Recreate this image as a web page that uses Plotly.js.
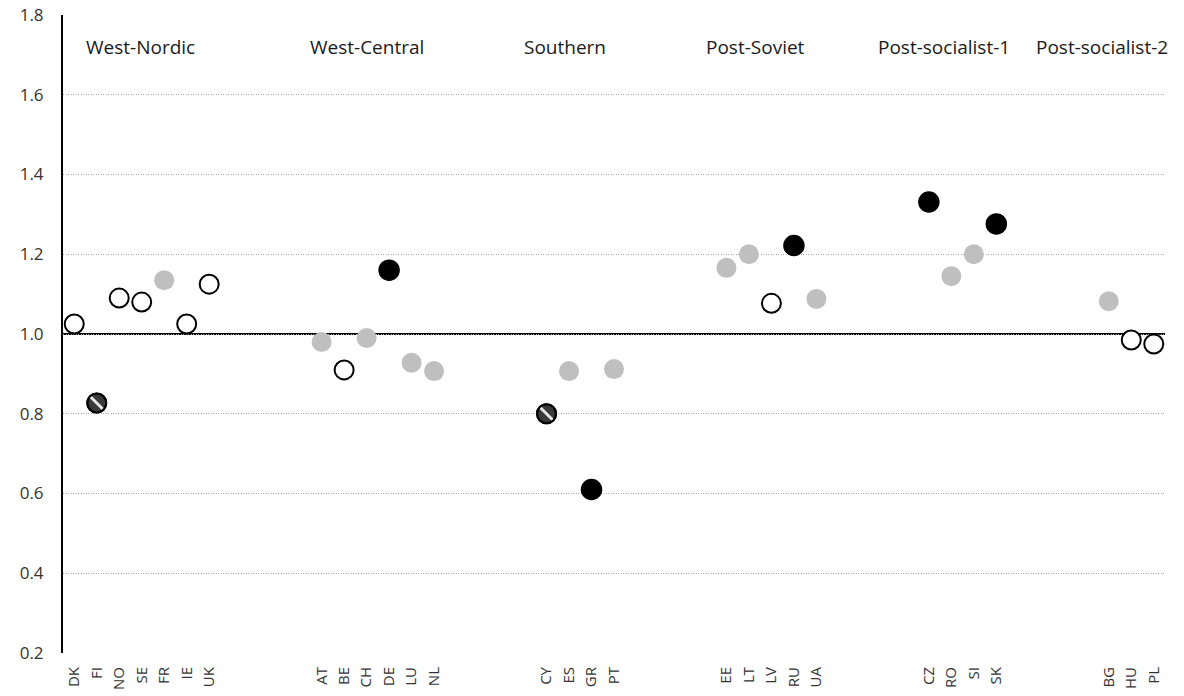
<!DOCTYPE html>
<html>
<head>
<meta charset="utf-8">
<script src="https://cdn.plot.ly/plotly-3.0.1.min.js"></script>
<style>html,body{margin:0;padding:0;background:#fff;}#chart{width:1184px;height:696px;}</style>
</head>
<body>
<div id="chart"></div>
<script>
// Groups
const groupNames = ['West-Nordic', 'West-Central', 'Southern', 'Post-Soviet', 'Post-socialist-1', 'Post-socialist-2'];
const westNordicCodes = ['DK', 'FI', 'NO', 'SE', 'FR', 'IE', 'UK'];
const westNordicVals  = [1.025, 0.827, 1.090, 1.080, 1.135, 1.025, 1.125];
const westNordicType  = ['open', 'hatch', 'open', 'open', 'gray', 'open', 'open'];
const westCentralCodes = ['AT', 'BE', 'CH', 'DE', 'LU', 'NL'];
const westCentralVals  = [0.980, 0.910, 0.990, 1.160, 0.928, 0.907];
const westCentralType  = ['gray', 'open', 'gray', 'black', 'gray', 'gray'];
const southernCodes = ['CY', 'ES', 'GR', 'PT'];
const southernVals  = [0.800, 0.907, 0.610, 0.912];
const southernType  = ['hatch', 'gray', 'black', 'gray'];
const postSovietCodes = ['EE', 'LT', 'LV', 'RU', 'UA'];
const postSovietVals  = [1.166, 1.200, 1.077, 1.222, 1.088];
const postSovietType  = ['gray', 'gray', 'open', 'black', 'gray'];
const postSoc1Codes = ['CZ', 'RO', 'SI', 'SK'];
const postSoc1Vals  = [1.331, 1.145, 1.200, 1.276];
const postSoc1Type  = ['black', 'gray', 'gray', 'black'];
const postSoc2Codes = ['BG', 'HU', 'PL'];
const postSoc2Vals  = [1.082, 0.985, 0.975];
const postSoc2Type  = ['gray', 'open', 'open'];
const yTickVals = [0.2, 0.4, 0.6, 0.8, 1.0, 1.2, 1.4, 1.6, 1.8];
const yTickText = ['0.2', '0.4', '0.6', '0.8', '1.0', '1.2', '1.4', '1.6', '1.8'];

const groupCodes = [westNordicCodes, westCentralCodes, southernCodes, postSovietCodes, postSoc1Codes, postSoc2Codes];
const groupVals  = [westNordicVals, westCentralVals, southernVals, postSovietVals, postSoc1Vals, postSoc2Vals];
const groupTypes = [westNordicType, westCentralType, southernType, postSovietType, postSoc1Type, postSoc2Type];

const GAP = 4; // empty slots between groups
const labelShift = [-1, -11, -15, -16, -19, -29];

let pos = 0;
const tickvals = [], ticktext = [];
const byType = {open: {x: [], y: []}, gray: {x: [], y: []}, black: {x: [], y: []}, hatch: {x: [], y: []}};
const annotations = [];
groupCodes.forEach((codes, g) => {
  const start = pos;
  codes.forEach((c, i) => {
    tickvals.push(pos); ticktext.push(c);
    byType[groupTypes[g][i]].x.push(pos);
    byType[groupTypes[g][i]].y.push(groupVals[g][i]);
    pos++;
  });
  annotations.push({
    x: (start + pos - 1) / 2, y: 1.72, xref: 'x', yref: 'y',
    text: groupNames[g], showarrow: false, xshift: labelShift[g],
    font: {family: 'Open Sans', size: 19, color: '#1a1a1a', weight: 400}
  });
  pos += GAP;
});
const lastPos = pos - GAP - 1;

const traces = [
  {x: byType.gray.x, y: byType.gray.y, type: 'scatter', mode: 'markers',
   marker: {size: 20, color: '#bfbfbf', line: {width: 0}}, hoverinfo: 'skip'},
  {x: byType.open.x, y: byType.open.y, type: 'scatter', mode: 'markers',
   marker: {size: 19, color: '#ffffff', line: {width: 2, color: '#000'}}, hoverinfo: 'skip'},
  {x: byType.black.x, y: byType.black.y, type: 'scatter', mode: 'markers',
   marker: {size: 20, color: '#000', line: {width: 1.5, color: '#000'}}, hoverinfo: 'skip'},
  {x: byType.hatch.x, y: byType.hatch.y, type: 'scatter', mode: 'markers',
   marker: {size: 19, color: '#3a3a3a', line: {width: 2, color: '#000'}}, hoverinfo: 'skip'},
  {x: byType.hatch.x, y: byType.hatch.y, type: 'scatter', mode: 'markers',
   marker: {symbol: 'line-nw', size: 14, color: '#fff', line: {width: 3, color: '#e6e6e6'}}, hoverinfo: 'skip'},
  {x: byType.hatch.x, y: byType.hatch.y, type: 'scatter', mode: 'markers',
   marker: {symbol: 'circle-open', size: 19, color: '#000', line: {width: 2, color: '#000'}}, hoverinfo: 'skip'}
];

const layout = {
  width: 1184, height: 696,
  margin: {l: 63, r: 19, t: 15, b: 43},
  paper_bgcolor: '#fff', plot_bgcolor: '#fff',
  showlegend: false,
  font: {family: 'Open Sans', color: '#222'},
  xaxis: {
    range: [-0.5, lastPos + 0.5], tickmode: 'array', tickvals: tickvals, ticktext: ticktext,
    tickangle: -90, showgrid: false, zeroline: false, showline: false, ticks: '',
    ticklabelstandoff: 10,
    tickfont: {family: 'Open Sans', size: 15, color: '#333', weight: 400}, automargin: false
  },
  yaxis: {
    range: [0.2, 1.8], tickmode: 'array', tickvals: yTickVals, ticktext: yTickText,
    showgrid: true, gridcolor: '#a6a6a6', griddash: '1px,1.5px', gridwidth: 1,
    zeroline: false, showline: true, linecolor: '#000', linewidth: 2, ticks: '',
    ticklabelstandoff: 14,
    tickfont: {family: 'Open Sans', size: 17, color: '#333', weight: 400},
    automargin: false
  },
  shapes: [{type: 'line', xref: 'paper', yref: 'y', x0: 0, x1: 1, y0: 1, y1: 1,
            line: {color: '#000', width: 2}, layer: 'below'}],
  annotations: annotations
};

Plotly.newPlot('chart', traces, layout, {displayModeBar: false, staticPlot: true});
</script>
</body>
</html>
